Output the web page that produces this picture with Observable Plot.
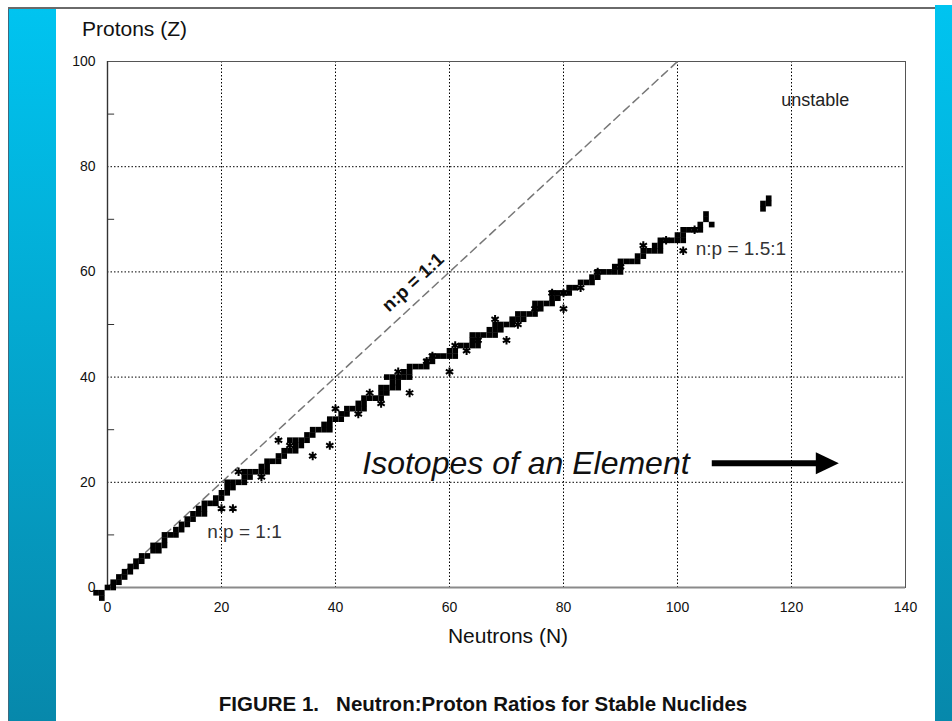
<!DOCTYPE html>
<html><head><meta charset="utf-8">
<script src="https://cdn.jsdelivr.net/npm/d3@7"></script>
<script src="https://cdn.jsdelivr.net/npm/@observablehq/plot@0.6"></script>
<style>
html,body{margin:0;padding:0;background:#fff;}
#page{position:relative;width:952px;height:721px;overflow:hidden;font-family:"Liberation Sans",Arial,sans-serif;color:#111;}
#chart{position:absolute;left:0;top:0;}
.strip{position:absolute;background:linear-gradient(#00c4f0,#0788ab);}
#topline{position:absolute;left:8px;top:7px;width:927px;height:2px;background:#6a6a6a;}
#caption{position:absolute;top:692px;left:0;width:966px;text-align:center;font-weight:bold;font-size:20.5px;white-space:pre;}
#ylab{position:absolute;left:82px;top:17px;font-size:21px;}
#xlab{position:absolute;left:358px;width:300px;text-align:center;top:624px;font-size:21px;}
</style></head>
<body><div id="page"><div id="chart"></div>
<div class="strip" style="left:8px;top:8px;width:47px;height:713px;border-left:1px solid #3d6a7e"></div>
<div class="strip" style="left:935px;top:5px;width:17px;height:716px"></div>
<div id="topline"></div>
<div id="ylab">Protons (Z)</div>
<div id="xlab">Neutrons (N)</div>
<div id="caption">FIGURE 1.   Neutron:Proton Ratios for Stable Nuclides</div>
</div>
<script>
// Tick values
const xTicks = [0, 20, 40, 60, 80, 100, 120, 140];
const yTicks = [0, 20, 40, 60, 80, 100];
const xGrid = [20, 40, 60, 80, 100, 120];
const yGrid = [20, 40, 60, 80];
const yMinor = [10, 30, 50, 70, 90];

// Stable nuclides: proton number (Z) per row and neutron numbers (N) in that row
const rowZ = [-2,-1,0,1,2,3,4,5,6,7,8,9,10,11,12,13,14,15,16,17,18,19,20,21,22,23,24,25,26,27,28,29,30,31,32,33,34,35,36,37,38,39,40,41,42,43,44,45,46,47,48,49,50,51,52,53,54,55,56,57,58,59,60,61,62,63,64,65,66,67,68,69,70,71,72,73,74];
const rowN = [
  [-1],[-2,-1],[0,1],[1,2],[2,3],[3,4],[4,5],[5,6],[6,7],[8,9],
  [8,9,10],[10],[10,11,12],[12,13],[13,14],[14,15],[15,16,17],[16,17],[17,18,19],[19,20],
  [20,21],[21,22],[21,22,23,24],[24,25],[24,25,26,27,28],[27,28],[28,29,30],[30,31],[31,32,33],[33,34],
  [32,33,34,35],[35,36],[36,37,38,39],[38,39],[39,40,41],[41,42],[42,43,44,45],[44,45],[45,46,47,48],[48,49],
  [48,49,50,51],[50,51],[49,50,51,52,53],[52,53],[53,54,55,56],[56,57],[57,58,59,60,61],[60,61],[62,63,64,65],[64,65],
  [64,65,66,67,68],[67,68,69],[68,69,70,71],[71,72,73],[72,73,74,75],[75,76],[75,76,77,78],[78,79],[78,79,80,81],[81,82],
  [83,84,85],[85,86],[86,87,88,89,90],[89,90],[90,91,92,93],[93,94],[94,95,96,97],[96,97],[97,98,99,100,101],[100,101],
  [101,102,103,104],[104,106],[105],[105],[115],[115,116],[116]
];

// Asterisk-marked nuclides
const astN = [20,22,23,32,36,39,40,46,51,53,57,61,60,65,68,70,75,78,80,80,86,94,101,103,44,56,63,72,83,90,98,30,27,48];
const astZ = [15,15,22,27,25,27,34,37,41,37,44,46,41,47,51,47,53,56,56,53,60,65,64,68,33,43,45,50,57,61,66,28,21,35];

// Reference line n:p = 1:1
const diagN = [0, 100];
const diagZ = [0, 100];

const stable = rowZ.flatMap((z, i) => rowN[i].map(n => ({n, z})));
const starred = astN.map((n, i) => ({n, z: astZ[i]}));

const triangleRight = {
  draw(ctx) {
    ctx.moveTo(12, 0);
    ctx.lineTo(-11, -11);
    ctx.lineTo(-11, 11);
    ctx.closePath();
  }
};

const font = "Liberation Sans, Arial, sans-serif";
const plot = Plot.plot({
  width: 952, height: 721,
  marginLeft: 107, marginRight: 47, marginTop: 61, marginBottom: 134,
  style: {background: "transparent", fontFamily: font, fontSize: "14px", color: "#111"},
  x: {domain: [0, 140], ticks: xTicks, tickSize: 0, tickPadding: 15, label: null},
  y: {domain: [0, 100], ticks: yTicks, tickSize: 0, tickPadding: 12, label: null},
  marks: [
    Plot.ruleX(xGrid, {stroke: "#000", strokeDasharray: "1.5,2"}),
    Plot.ruleY(yGrid, {stroke: "#000", strokeDasharray: "1.5,2"}),
    Plot.frame({stroke: "#555"}),
    Plot.ruleY([0], {stroke: "#8a8a8a", strokeWidth: 2}),
    Plot.ruleX([0], {stroke: "#333", strokeWidth: 1.4}),
    Plot.ruleY(yMinor, {x1: 0, x2: 1.25, stroke: "#333"}),
    Plot.line({length: 2}, {x: diagN, y: diagZ, stroke: "#777", strokeDasharray: "8,5"}),
    Plot.dot(stable, {x: "n", y: "z", symbol: "square", fill: "#000", r: 3.2}),
    Plot.dot(starred, {x: "n", y: "z", symbol: "asterisk", stroke: "#000", r: 4, strokeWidth: 2}),
    Plot.text(["unstable"], {x: 118.2, y: 92.6, textAnchor: "start", fontSize: 18, fill: "#222"}),
    Plot.text(["n:p = 1.5:1"], {x: 103.2, y: 64.4, textAnchor: "start", fontSize: 19, fill: "#333"}),
    Plot.text(["n:p = 1:1"], {x: 17.5, y: 10.6, textAnchor: "start", fontSize: 19, fill: "#333"}),
    Plot.text(["n:p = 1:1"], {x: 53.6, y: 58.0, rotate: -42.7, fontSize: 18.5, fontWeight: "bold", fill: "#111"}),
    Plot.text(["Isotopes of an Element"], {x: 44.7, y: 23.6, textAnchor: "start", fontSize: 32, fontStyle: "italic", fill: "#111"}),
    Plot.ruleY([23.6], {x1: 106.1, x2: 124.4, stroke: "#000", strokeWidth: 6}),
    Plot.dot([0], {x: 126.2, y: 23.6, symbol: triangleRight, fill: "#000", r: 1})
  ]
});
document.getElementById("chart").appendChild(plot);
</script>
</body></html>
